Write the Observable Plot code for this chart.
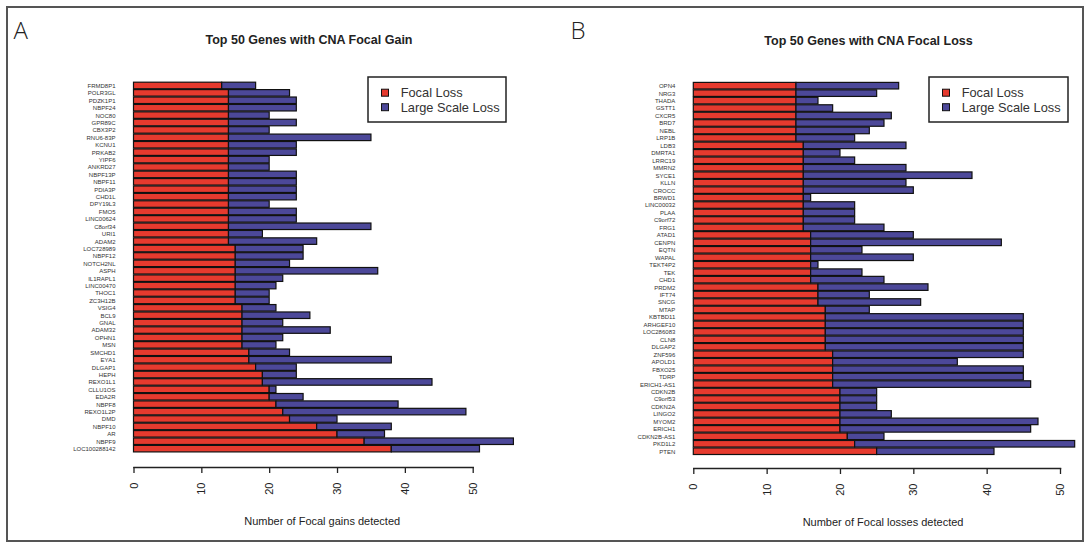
<!DOCTYPE html>
<html><head><meta charset="utf-8">
<script src="https://cdn.jsdelivr.net/npm/d3@7"></script>
<script src="https://cdn.jsdelivr.net/npm/@observablehq/plot@0.6"></script>
<style>
body{margin:0;background:#fff;}
#wrap{position:relative;width:1090px;height:544px;display:flex;}
#wrap svg{display:block;flex:none;}
#border{position:absolute;left:6px;top:6px;width:1078px;height:536px;border:2px solid #555;box-sizing:border-box;pointer-events:none}
</style></head><body><div id="wrap"><div id="border"></div></div>
<script>
const genesGain = ["FRMD8P1","POLR3GL","PDZK1P1","NBPF24","NOC80","GPR89C","CBX3P2","RNU6-83P","KCNU1","PRKAB2","YIPF6","ANKRD27","NBPF13P","NBPF11","PDIA3P","CHD1L","DPY19L3","FMO5","LINC00624","C8orf34","URI1","ADAM2","LOC728989","NBPF12","NOTCH2NL","ASPH","IL1RAPL1","LINC00470","THOC1","ZC3H12B","VSIG4","BCL9","GNAL","ADAM32","OPHN1","MSN","SMCHD1","EYA1","DLGAP1","HEPH","REXO1L1","CLLU1OS","EDA2R","NBPF8","REXO1L2P","DMD","NBPF10","AR","NBPF9","LOC100288142"];
const focalGain = [13,14,14,14,14,14,14,14,14,14,14,14,14,14,14,14,14,14,14,14,14,14,15,15,15,15,15,15,15,15,16,16,16,16,16,16,17,17,18,19,19,20,20,21,22,23,27,30,34,38];
const largeGain = [5,9,10,10,6,10,6,21,10,10,6,6,10,10,10,10,6,10,10,21,5,13,10,10,8,21,7,6,5,5,5,10,6,13,6,5,6,21,6,5,25,1,5,18,27,7,11,7,22,13];

const genesLoss = ["OPN4","NRG3","THADA","GSTT1","CXCR5","BRD7","NEBL","LRP1B","LDB3","DMRTA1","LRRC19","MMRN2","SYCE1","KLLN","CROCC","BRWD1","LINC00032","PLAA","C9orf72","FRG1","ATAD1","CENPN","EQTN","WAPAL","TEKT4P2","TEK","CHD1","PRDM2","IFT74","SNCG","MTAP","KBTBD11","ARHGEF10","LOC286083","CLN8","DLGAP2","ZNF596","APOLD1","FBXO25","TDRP","ERICH1-AS1","CDKN2B","C9orf53","CDKN2A","LINGO2","MYOM2","ERICH1","CDKN2B-AS1","PKD1L2","PTEN"];
const focalLoss = [14,14,14,14,14,14,14,14,15,15,15,15,15,15,15,15,15,15,15,15,16,16,16,16,16,16,16,17,17,17,18,18,18,18,18,18,19,19,19,19,19,20,20,20,20,20,20,21,22,25];
const largeLoss = [14,11,3,5,13,12,10,8,14,5,7,14,23,14,15,1,7,7,7,11,14,26,7,14,1,7,10,15,7,14,6,27,27,27,27,27,26,17,26,26,27,5,5,5,7,27,26,5,30,16];

const seriesNames = ["Focal Loss","Large Scale Loss"];
const seriesColors = ["#e63a2e","#4c4899"];
const xTicks = [0,10,20,30,40,50];

const panels = [
  {letter:"A", title:"Top 50 Genes with CNA Focal Gain", xlabel:"Number of Focal gains detected",
   genes:genesGain, focal:focalGain, large:largeGain,
   ml:133.5, mr:72.3, mb:77, yRange:[81.3,452.8],
   titleDx:5.4, titleDy:-40.5, labDx:18.6, letterDx:-120.5,
   legX:368, legW:138},
  {letter:"B", title:"Top 50 Genes with CNA Focal Loss", xlabel:"Number of Focal losses detected",
   genes:genesLoss, focal:focalLoss, large:largeLoss,
   ml:148.3, mr:30, mb:76, yRange:[81.5,455.4],
   titleDx:-8.6, titleDy:-40, labDx:5.9, letterDx:-123.3,
   legX:384, legW:139}
];

const wrap = document.getElementById("wrap");
for (const cfg of panels) {
  const data = [];
  cfg.genes.forEach((g,i)=>{
    data.push({gene:g, type:seriesNames[0], value:cfg.focal[i]});
    data.push({gene:g, type:seriesNames[1], value:cfg.large[i]});
  });
  const svg = Plot.plot({
    width:545, height:544,
    marginLeft:cfg.ml, marginRight:cfg.mr, marginTop:80, marginBottom:cfg.mb,
    style:{fontFamily:"'Liberation Sans', Arial, sans-serif", background:"transparent", overflow:"visible"},
    x:{domain:[0,50]},
    y:{domain:cfg.genes, range:cfg.yRange, padding:0.12, round:false},
    color:{domain:seriesNames, range:seriesColors},
    marks:[
      Plot.barX(data,{y:"gene", x:"value", fill:"type", stroke:"#111", strokeWidth:1.2}),
      Plot.axisY({tickSize:0, tickPadding:18.5, fontSize:6, label:null, fill:"#333"}),
      Plot.axisX({ticks:xTicks, tickSize:6, tickPadding:9, tickRotate:-90, fontSize:11, label:null, color:"#222", strokeWidth:1.3}),
      Plot.frame({anchor:"bottom", stroke:"#222", strokeWidth:1.5}),
      Plot.text([cfg.xlabel],{frameAnchor:"bottom", lineAnchor:"middle", dx:cfg.labDx, dy:54, fontSize:11, fill:"#222"}),
      Plot.text([cfg.title],{frameAnchor:"top", lineAnchor:"middle", dx:cfg.titleDx, dy:cfg.titleDy, fontSize:12.5, fontWeight:"bold", fill:"#222"}),
      Plot.text([cfg.letter],{frameAnchor:"top-left", lineAnchor:"middle", dx:cfg.letterDx, dy:-49, fontSize:24, textAnchor:"start", fill:"#222", fontFamily:"'Open Sans', sans-serif", fontWeight:300})
    ]
  });
  // legend inside the plot
  const s = d3.select(svg);
  const g = s.append("g").attr("font-family","'Liberation Sans', Arial, sans-serif").attr("text-anchor","start");
  g.append("rect").attr("x",cfg.legX).attr("y",77).attr("width",cfg.legW).attr("height",45)
    .attr("fill","white").attr("stroke","#222").attr("stroke-width",1.5);
  seriesNames.forEach((nm,i)=>{
    const cy = 92.7 + i*14.5;
    g.append("rect").attr("x",cfg.legX+13.5).attr("y",cy-3.5).attr("width",7).attr("height",7)
      .attr("fill",seriesColors[i]).attr("stroke","#111").attr("stroke-width",1);
    g.append("text").attr("x",cfg.legX+32.7).attr("y",cy).attr("dy","0.35em")
      .attr("font-size",12.8).attr("fill","#333").text(nm);
  });
  wrap.appendChild(svg);
}
</script>
</body></html>
